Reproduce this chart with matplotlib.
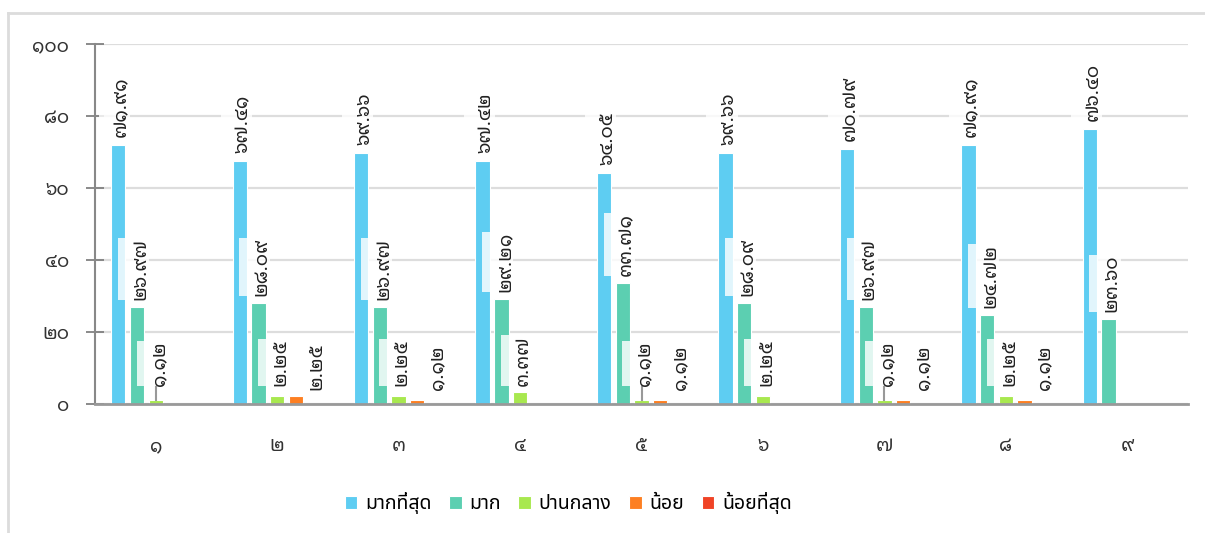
import matplotlib
matplotlib.use("Agg")
import matplotlib.pyplot as plt
from matplotlib.lines import Line2D
from matplotlib.path import Path
from matplotlib.transforms import Affine2D
import numpy as np

GROUPS = ["๑", "๒", "๓", "๔", "๕", "๖", "๗", "๘", "๙"]
SERIES = ["มากที่สุด", "มาก", "ปานกลาง", "น้อย", "น้อยที่สุด"]
MOST = [71.91, 67.41, 69.66, 67.42, 64.05, 69.66, 70.79, 71.91, 76.40]
MUCH = [26.97, 28.09, 26.97, 29.21, 33.71, 28.09, 26.97, 24.72, 23.60]
MEDIUM = [1.12, 2.25, 2.25, 3.37, 1.12, 2.25, 1.12, 2.25, 0]
LITTLE = [0, 2.25, 1.12, 0, 1.12, 0, 1.12, 1.12, 0]
LEAST = [0, 0, 0, 0, 0, 0, 0, 0, 0]

COLORS = ["#5ecdf2", "#5ccfb1", "#a8e84f", "#fd7f22", "#f04326"]
THAI_DIGITS = str.maketrans("0123456789", "๐๑๒๓๔๕๖๗๘๙")
DIGIT_FONT = ["Noto Sans Thai Looped", "Noto Sans Thai", "DejaVu Sans"]

# label placement per series: dx (px), gap above bar (px), lowest label base (data units)
LABEL_STYLE = [(3, 8, 0), (3, 7, 0), (3, 6, 5.0), (20, 6, 3.8), (20, 6, 3.8)]

plt.rcParams["font.family"] = ["Noto Sans Thai", "DejaVu Sans"]


def thai(v):
    return f"{v:.2f}".translate(THAI_DIGITS)


def wide_box(x0, y0, width, height, mutation_size):
    # reaches further past the glyph tops, which face left once rotated
    ext = 0.7 * mutation_size
    return Path.unit_rectangle().transformed(
        Affine2D().scale(width, height + ext).translate(x0, y0)
    )


fig = plt.figure(figsize=(12.05, 5.33), dpi=100)
ax = fig.add_axes([95 / 1205, 129 / 533, 1093 / 1205, 360 / 533])

# light frame round the chart
fig.add_artist(Line2D([8 / 1205, 8 / 1205], [0, 1 - 13 / 533], transform=fig.transFigure, color="#dcdcdc", lw=2))
fig.add_artist(Line2D([8 / 1205, 1], [1 - 13 / 533, 1 - 13 / 533], transform=fig.transFigure, color="#dcdcdc", lw=2))

x = np.arange(len(GROUPS))
step = 0.154
width = 0.118
all_values = [MOST, MUCH, MEDIUM, LITTLE, LEAST]
bar_sets = []
for k, (name, vals) in enumerate(zip(SERIES, all_values)):
    bars = ax.bar(x + (k - 2) * step, vals, width, color=COLORS[k], label=name,
                  edgecolor="white", linewidth=0.8, zorder=2)
    bar_sets.append((bars, vals))

ax.set_xlim(-0.5, len(GROUPS) - 0.5)
ax.set_ylim(0, 100)
ax.set_yticks(np.arange(0, 101, 20))
ax.set_yticklabels([str(v).translate(THAI_DIGITS) for v in range(0, 101, 20)], family=DIGIT_FONT)
ax.set_xticks(x)
ax.set_xticklabels(GROUPS, family=DIGIT_FONT)
ax.tick_params(axis="y", direction="inout", length=13, width=1.2, color="#777777", pad=12,
               labelsize=13.5, labelcolor="#333333")
ax.tick_params(axis="x", length=0, pad=24, labelsize=13.5, labelcolor="#333333")
ax.grid(axis="y", color="#dddddd", lw=1.6, zorder=0)
ax.set_axisbelow(True)
for s in ("top", "right"):
    ax.spines[s].set_visible(False)
ax.spines["left"].set_color("#888888")
ax.spines["left"].set_linewidth(1.5)
ax.spines["bottom"].set_color("#999999")
ax.spines["bottom"].set_linewidth(2)

px = ax.transData
for k, (bars, vals) in enumerate(bar_sets):
    dx, gap, low = LABEL_STYLE[k]
    for bar, v in zip(bars, vals):
        if v <= 0:
            continue
        cx = bar.get_x() + bar.get_width() / 2
        base = max(v, low)
        top_px = px.transform((cx, v))[1]
        base_px = px.transform((cx, base))[1]
        lift = max(gap, base_px - top_px)
        ax.annotate(thai(v), xy=(cx, v), xytext=(dx, lift), textcoords="offset pixels",
                    rotation=90, ha="center", va="bottom", fontsize=13.5, color="#222222",
                    family=DIGIT_FONT, zorder=4,
                    bbox=dict(boxstyle=wide_box, fc=(1, 1, 1, 0.82), ec="none"))
        if k == 2 and lift > 11:
            ax.plot([cx, cx], [v, base], color="#999999", lw=1.5, zorder=3)

ax.legend(loc="center", bbox_to_anchor=(0.433, -0.275), ncol=5, frameon=False,
          fontsize=14, handlelength=0.65, handleheight=0.65, handletextpad=0.4, columnspacing=0.9)

fig.savefig("out.png", dpi=100)
